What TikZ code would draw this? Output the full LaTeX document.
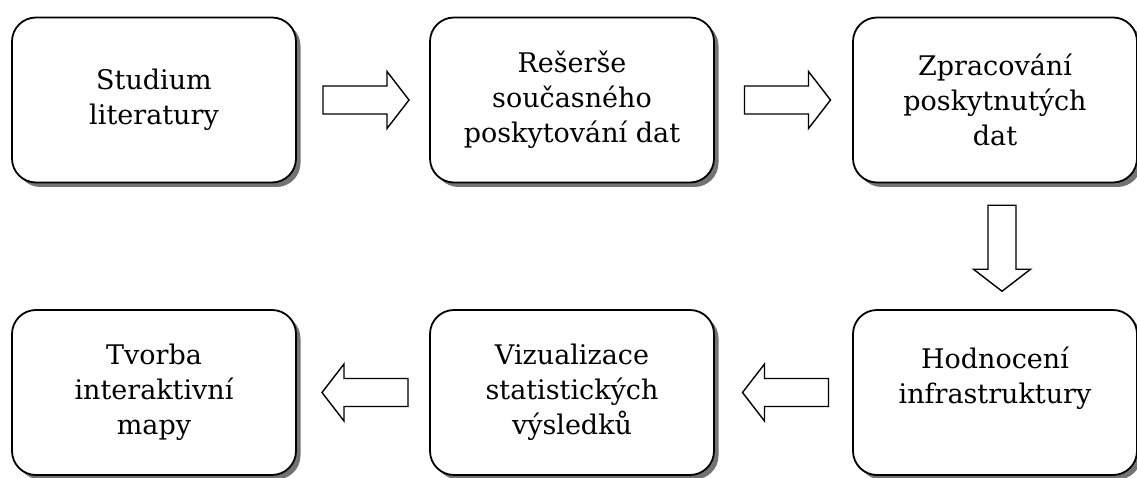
\documentclass[tikz,border=0pt]{standalone}
\usepackage{fontspec}
\setmainfont{DejaVu Serif}
\usetikzlibrary{calc,shadows}
\tikzset{
  box/.style={draw=black, line width=1.8pt, fill=white, rounded corners=24pt,
    minimum width=284pt, minimum height=165pt, align=center, inner sep=0pt,
    font={\fontsize{27}{35}\selectfont},
    drop shadow={shadow xshift=4.5pt, shadow yshift=-4.5pt, opacity=1, fill=black!55}},
  arrowline/.style={draw=black, line width=1.4pt, fill=white, line join=miter},
  barrow/.pic={\path[arrowline] (-43,-14) -- (21,-14) -- (21,-28.5) -- (43,0) -- (21,28.5) -- (21,14) -- (-43,14) -- cycle;}
}
\begin{document}
\begin{tikzpicture}[x=1pt,y=1pt]
\useasboundingbox (0,0) rectangle (1137,477);
\node[box] (b1) at (154,377) {Studium\\literatury};
\node[box] (b2) at (572,377) {Rešerše\\současného\\poskytování dat};
\node[box] (b3) at (995,377) {Zpracování\\poskytnutých\\dat};
\node[box] (b4) at (995,84.5) {Hodnocení\\infrastruktury\\\mbox{}};
\node[box] (b5) at (572,84.5) {Vizualizace\\statistických\\výsledků};
\node[box] (b6) at (154,84.5) {Tvorba\\interaktivní\\mapy};
\coordinate (a1) at ($(b1.east)!0.5!(b2.west)+(3,0)$);
\coordinate (a2) at ($(b2.east)!0.5!(b3.west)+(4,0)$);
\coordinate (a3) at ($(b3.south)!0.5!(b4.north)+(7,-2)$);
\coordinate (a4) at ($(b4.west)!0.5!(b5.east)+(2,0)$);
\coordinate (a5) at ($(b5.west)!0.5!(b6.east)+(2,0)$);
\pic at (a1) {barrow};
\pic at (a2) {barrow};
\pic[rotate=-90] at (a3) {barrow};
\pic[rotate=180] at (a4) {barrow};
\pic[rotate=180] at (a5) {barrow};
\end{tikzpicture}
\end{document}
